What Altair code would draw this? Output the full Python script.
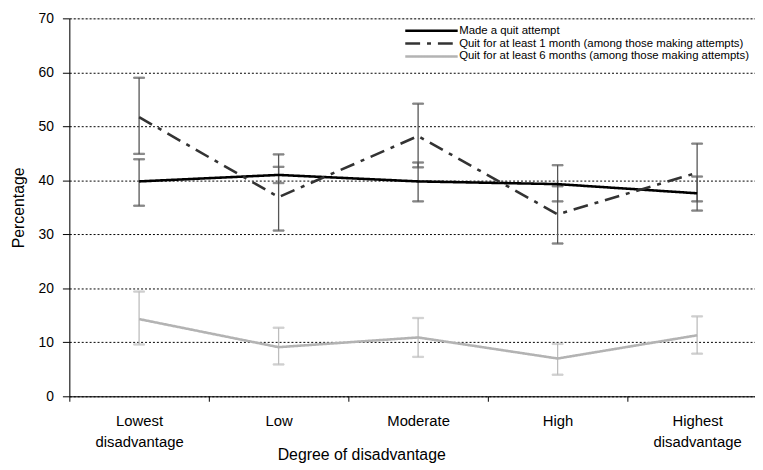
import altair as alt
import pandas as pd

categories = ["Lowest disadvantage", "Low", "Moderate", "High", "Highest disadvantage"]
series_names = [
    "Made a quit attempt",
    "Quit for at least 1 month (among those making attempts)",
    "Quit for at least 6 months (among those making attempts)",
]

made = [39.8, 41.0, 39.8, 39.3, 37.6]
made_lo = [35.3, 39.5, 36.1, 36.1, 34.4]
made_hi = [43.9, 42.5, 43.3, 42.8, 40.7]

quit1 = [51.7, 36.9, 48.2, 33.7, 41.4]
quit1_lo = [44.9, 30.7, 42.4, 28.3, 36.1]
quit1_hi = [59.0, 44.8, 54.2, 38.9, 46.8]

quit6 = [14.3, 9.1, 10.9, 7.0, 11.3]
quit6_lo = [9.6, 5.9, 7.3, 4.0, 7.9]
quit6_hi = [19.4, 12.7, 14.5, 9.7, 14.8]

line_colors = ["#000000", "#333333", "#b3b3b3"]
err_colors = ["#555555", "#555555", "#bdbdbd"]

rows = []
for name, vals, los, his, ec in [
    (series_names[0], made, made_lo, made_hi, err_colors[0]),
    (series_names[1], quit1, quit1_lo, quit1_hi, err_colors[1]),
    (series_names[2], quit6, quit6_lo, quit6_hi, err_colors[2]),
]:
    for c, v, lo, hi in zip(categories, vals, los, his):
        rows.append({"cat": c, "series": name, "value": v, "lo": lo, "hi": hi, "ecolor": ec})
df = pd.DataFrame(rows)

FONT = "Liberation Sans"

xscale = alt.Scale(type="band", domain=categories, range=[0, 705], paddingInner=0, paddingOuter=0)
yscale = alt.Scale(domain=[0, 70], nice=False)

x_enc = alt.X(
    "cat:N",
    scale=xscale,
    sort=categories,
    axis=alt.Axis(
        title="Degree of disadvantage",
        tickBand="extent",
        labelExpr="split(datum.label, ' ')",
        labelAngle=0,
        labelFontSize=15,
        labelFont=FONT,
        labelColor="#000",
        labelLineHeight=21,
        labelPadding=13,
        tickSize=5,
        tickColor="#000",
        domainColor="#000",
        grid=False,
        titleFontSize=16,
        titleFont=FONT,
        titleFontWeight="normal",
        titleColor="#000",
        titleX=295,
        titleY=59,
        titleBaseline="middle",
    ),
)

y_axis = alt.Axis(
    title="Percentage",
    values=[0, 10, 20, 30, 40, 50, 60, 70],
    labelFontSize=14,
    labelFont=FONT,
    labelColor="#000",
    labelPadding=9,
    tickSize=7,
    tickColor="#000",
    domainColor="#000",
    grid=True,
    gridColor="#000",
    gridDash=[2, 2],
    gridWidth=1,
    titleFontSize=16,
    titleFont=FONT,
    titleFontWeight="normal",
    titleColor="#000",
    titlePadding=12,
)

err_color = alt.Color("ecolor:N", scale=None, legend=None)

base = alt.Chart(df)

rules = base.mark_rule(strokeWidth=1.3).encode(
    x=x_enc,
    y=alt.Y("lo:Q", scale=yscale, axis=y_axis),
    y2="hi:Q",
    stroke=err_color,
)
caps_lo = base.mark_tick(orient="horizontal", size=11, thickness=1.3).encode(
    x=alt.X("cat:N", scale=xscale, sort=categories),
    y=alt.Y("lo:Q", scale=yscale),
    stroke=err_color,
    fill=err_color,
)
caps_hi = base.mark_tick(orient="horizontal", size=11, thickness=1.3).encode(
    x=alt.X("cat:N", scale=xscale, sort=categories),
    y=alt.Y("hi:Q", scale=yscale),
    stroke=err_color,
    fill=err_color,
)

legend = alt.Legend(
    title=None,
    orient="none",
    legendX=379,
    legendY=5,
    symbolType="M-7.83,0L1,0",
    symbolSize=144,
    symbolStrokeWidth=2.6,
    labelFontSize=11.5,
    labelFont=FONT,
    labelColor="#000",
    labelOffset=0,
    rowPadding=0,
    labelLimit=400,
)

lines = base.mark_line(strokeWidth=2.6).encode(
    x=alt.X("cat:N", scale=xscale, sort=categories),
    y=alt.Y("value:Q", scale=yscale),
    color=alt.Color(
        "series:N",
        scale=alt.Scale(domain=series_names, range=line_colors),
        legend=legend,
    ),
    strokeDash=alt.StrokeDash(
        "series:N",
        scale=alt.Scale(domain=series_names, range=[[1, 0], [15, 7, 4, 7], [1, 0]]),
        legend=legend,
    ),
    detail="series:N",
)

chart = (
    alt.layer(rules, caps_lo, caps_hi, lines)
    .properties(
        width=693,
        height=382,
        autosize=alt.AutoSizeParams(type="none"),
        padding={"left": 62, "top": 8, "right": 0, "bottom": 70},
    )
    .configure_view(stroke=None)
    .configure(font=FONT)
)

chart.save("out.html", embed_options={"renderer": "svg", "actions": False})
